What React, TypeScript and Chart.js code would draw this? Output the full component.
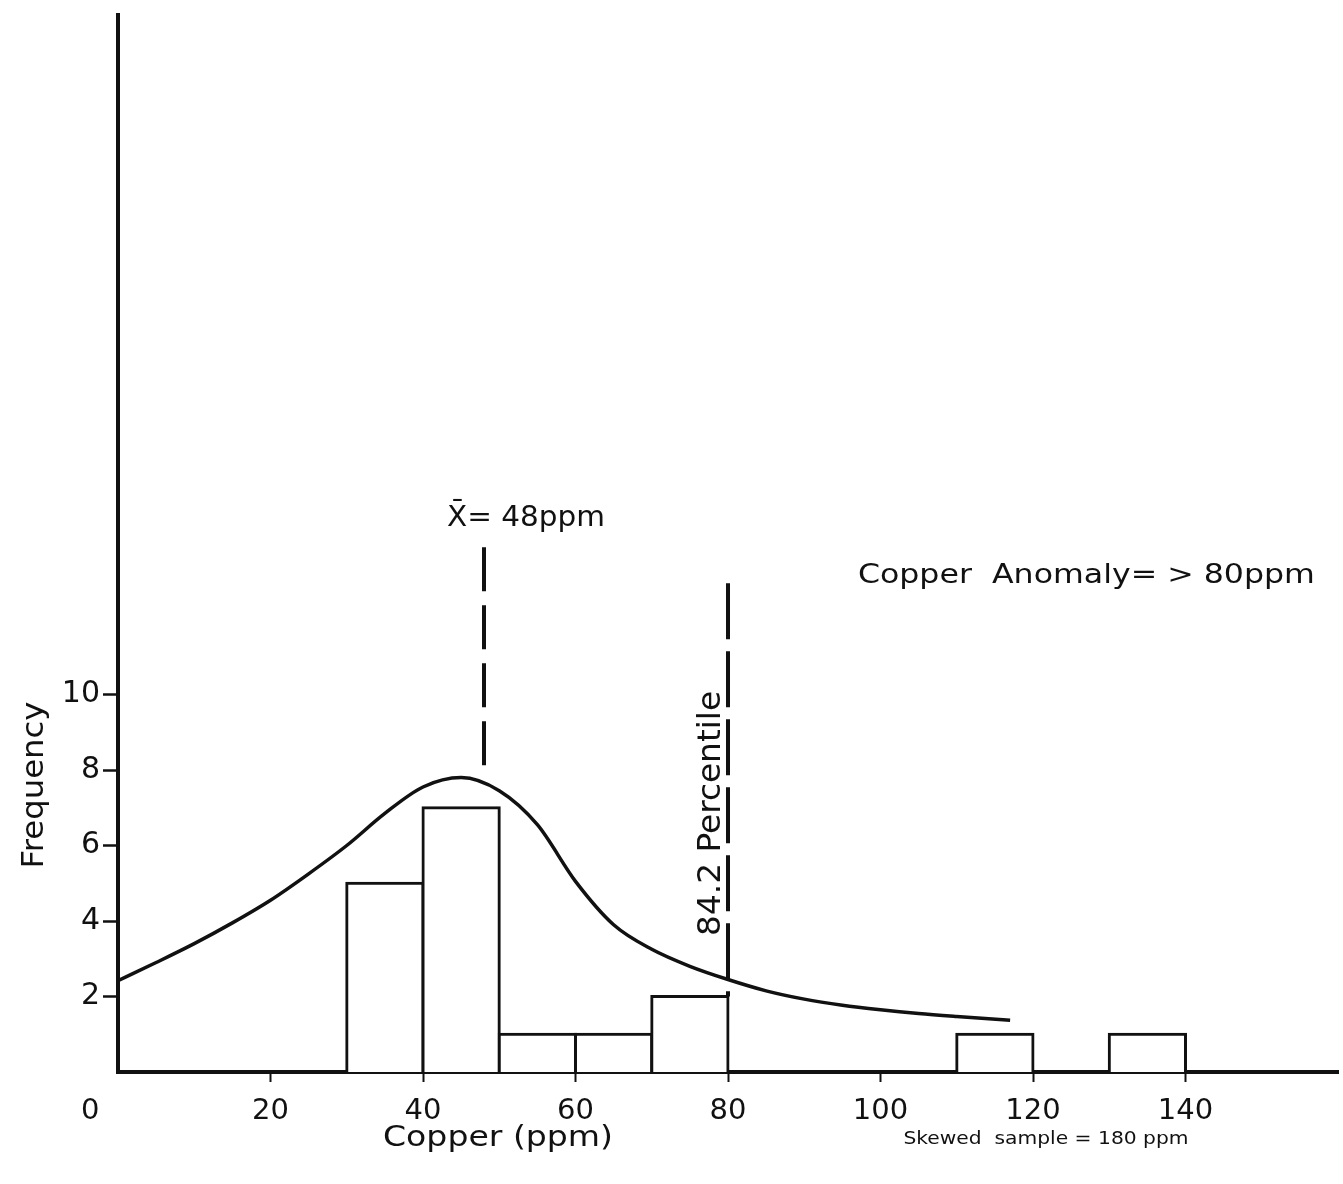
import React, { useEffect, useRef } from 'react';
import { Chart, registerables } from 'chart.js';

Chart.register(...registerables);

// ---- data ----
const binStarts = [30, 40, 50, 60, 70, 110, 130];
const binWidth = 10;
const frequencies = [5, 7, 1, 1, 2, 1, 1];

const curveX = [0, 5, 10, 15, 20, 25, 30, 35, 40, 45, 50, 55, 60, 65, 70, 75, 80, 85, 90, 95, 100, 105, 110, 117];
const curveY = [2.42, 2.9, 3.4, 3.95, 4.55, 5.25, 6.0, 6.85, 7.55, 7.8, 7.45, 6.55, 5.05, 3.9, 3.25, 2.8, 2.45, 2.15, 1.93, 1.77, 1.65, 1.55, 1.47, 1.37];

const xTicks = [0, 20, 40, 60, 80, 100, 120, 140];
const yTicks = [2, 4, 6, 8, 10];

const meanValue = 48;
const meanLineY = [13.9, 8.05];
const percentileValue = 80;
const percentileLineY = [12.95, 2];

const xTitle = 'Copper (ppm)';
const yTitle = 'Frequency';
const meanLabel = 'X\u0304= 48ppm';
const percentileLabel = '84.2 Percentile';
const anomalyLabel = 'Copper  Anomaly= > 80ppm';
const noteLabel = 'Skewed  sample = 180 ppm';

const FONT = '"DejaVu Sans", "Noto Sans", sans-serif';
const INK = '#111111';

function drawFit(
  ctx: CanvasRenderingContext2D,
  text: string,
  x: number,
  y: number,
  size: number,
  width: number,
  rotate = 0,
  weight = 'normal'
) {
  ctx.save();
  ctx.translate(x, y);
  if (rotate) ctx.rotate(rotate);
  ctx.font = `${weight} ${size}px ${FONT}`;
  const w = ctx.measureText(text).width;
  ctx.scale(width / w, 1);
  ctx.textAlign = 'center';
  ctx.textBaseline = 'alphabetic';
  ctx.fillStyle = INK;
  ctx.fillText(text, 0, 0);
  ctx.restore();
}

const annotationPlugin = {
  id: 'annotations',
  afterDraw(chart: any) {
    const ctx: CanvasRenderingContext2D = chart.ctx;
    const xs = chart.scales.x;
    const ys = chart.scales.y;
    // labels anchored to data positions
    drawFit(ctx, meanLabel, xs.getPixelForValue(53.5), ys.getPixelForValue(14.47), 29, 158);
    drawFit(ctx, anomalyLabel, xs.getPixelForValue(127), ys.getPixelForValue(12.95), 26, 457);
    drawFit(ctx, percentileLabel, xs.getPixelForValue(78.9), ys.getPixelForValue(6.85), 32, 245, -Math.PI / 2);
    // axis titles
    drawFit(ctx, yTitle, 43, 785, 30, 167, -Math.PI / 2);
    drawFit(ctx, xTitle, 498, 1146, 29, 230);
    drawFit(ctx, noteLabel, 1046, 1144, 17, 285);
  },
};

export default function App() {
  const ref = useRef<HTMLCanvasElement | null>(null);

  useEffect(() => {
    document.body.style.margin = '0';
    document.body.style.overflow = 'hidden';
    const canvas = ref.current;
    if (!canvas) return;

    const chart = new Chart(canvas, {
      type: 'bar',
      data: {
        datasets: [
          {
            type: 'line',
            label: 'Fitted curve',
            data: curveX.map((x, i) => ({ x, y: curveY[i] })),
            borderColor: INK,
            borderWidth: 3.5,
            pointRadius: 0,
            cubicInterpolationMode: 'monotone',
            fill: false,
            order: 0,
          } as any,
          {
            type: 'bar',
            label: 'Frequency',
            data: binStarts.map((s, i) => ({ x: s + binWidth / 2, y: frequencies[i] })),
            backgroundColor: '#ffffff',
            borderColor: INK,
            borderWidth: 3,
            inflateAmount: 1.5,
            barPercentage: 1,
            categoryPercentage: 1,
            order: 3,
          } as any,
          {
            type: 'line',
            label: 'Mean',
            data: meanLineY.map((y) => ({ x: meanValue, y })),
            borderColor: INK,
            borderWidth: 4,
            borderDash: [44, 14],
            borderCapStyle: 'butt',
            pointRadius: 0,
            fill: false,
            order: 1,
          } as any,
          {
            type: 'line',
            label: '84.2 Percentile',
            data: percentileLineY.map((y) => ({ x: percentileValue, y })),
            borderColor: INK,
            borderWidth: 4,
            borderDash: [56, 12],
            borderCapStyle: 'butt',
            pointRadius: 0,
            fill: false,
            order: 1,
          } as any,
        ],
      },
      options: {
        animation: false,
        responsive: true,
        maintainAspectRatio: false,
        layout: { padding: { top: 15, right: 5, left: 0, bottom: 0 } },
        plugins: {
          legend: { display: false },
          tooltip: { enabled: false },
        },
        scales: {
          x: {
            type: 'linear',
            min: 0,
            max: 160,
            offset: false,
            grid: {
              offset: false,
              drawOnChartArea: false,
              drawTicks: true,
              tickLength: 10,
              tickWidth: 2,
              color: (c: any) => (c.tick && c.tick.value === 0 ? 'rgba(0,0,0,0)' : INK),
            },
            border: { display: true, color: INK, width: 4 },
            ticks: {
              color: INK,
              font: { family: FONT, size: 29 },
              padding: 12,
              maxRotation: 0,
              autoSkip: false,
              callback: (v: any) => (v === 0 ? '0      ' : String(v)),
            },
            afterBuildTicks: (s: any) => {
              s.ticks = xTicks.map((v) => ({ value: v }));
            },
            afterFit: (s: any) => {
              s.height = 112;
              s.paddingLeft = 0;
              s.paddingRight = 0;
            },
          },
          y: {
            type: 'linear',
            min: 0,
            max: 28,
            grid: {
              drawOnChartArea: false,
              drawTicks: true,
              tickLength: 15,
              tickWidth: 2.5,
              color: INK,
            },
            border: { display: true, color: INK, width: 4 },
            ticks: {
              color: INK,
              font: { family: FONT, size: 30 },
              padding: 3,
              autoSkip: false,
            },
            afterBuildTicks: (s: any) => {
              s.ticks = yTicks.map((v) => ({ value: v }));
            },
            afterFit: (s: any) => {
              s.width = 118;
              s.paddingTop = 0;
              s.paddingBottom = 0;
            },
          },
        },
      } as any,
      plugins: [annotationPlugin],
    });

    return () => chart.destroy();
  }, []);

  return (
    <div style={{ position: 'relative', width: 1343, height: 1184, background: '#ffffff' }}>
      <canvas ref={ref} />
    </div>
  );
}
